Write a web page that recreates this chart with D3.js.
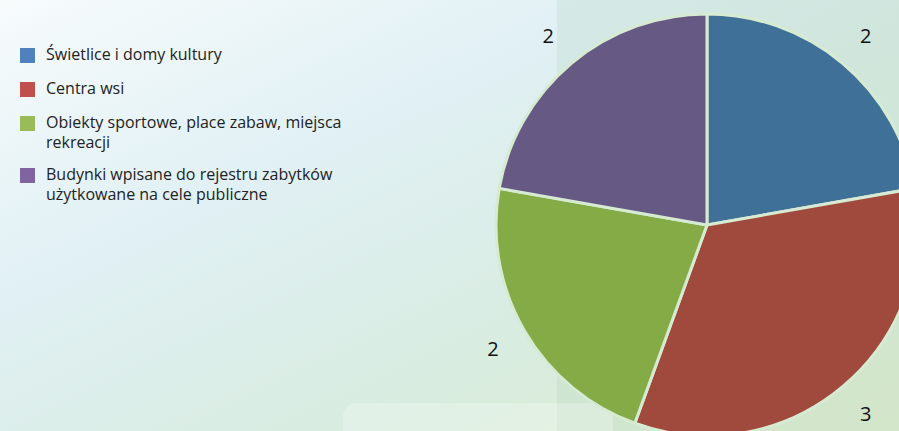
<!DOCTYPE html>
<html>
<head>
<meta charset="utf-8">
<script src="https://cdn.jsdelivr.net/npm/d3@7"></script>
<style>
  html, body { margin: 0; padding: 0; overflow: hidden; }
  body { width: 899px; height: 431px; }
</style>
</head>
<body>
<div id="chart"></div>
<script>
let categories = [
  "Świetlice i domy kultury",
  "Centra wsi",
  "Obiekty sportowe, place zabaw, miejsca rekreacji",
  "Budynki wpisane do rejestru zabytków użytkowane na cele publiczne"
];
let values = [2, 3, 2, 2];
// legend lines (wrapped like the original)
let legendLines = [
  ["Świetlice i domy kultury"],
  ["Centra wsi"],
  ["Obiekty sportowe, place zabaw, miejsca", "rekreacji"],
  ["Budynki wpisane do rejestru zabytków", "użytkowane na cele publiczne"]
];
let legendColors = ["#4f81bd", "#c0504d", "#9bbb59", "#8064a2"];
let sliceColors = ["#3e7098", "#9f4a3d", "#85ab47", "#665a84"];

let w = 899;
let h = 431;

let svg = d3.select("#chart")
  .append("svg")
    .attr("width", w)
    .attr("height", h)
    .style("display", "block")
    .style("font-family", "'Open Sans', 'Noto Sans', sans-serif");

// background
let defs = svg.append("defs");
let bg = defs.append("linearGradient")
  .attr("id", "bg")
  .attr("x1", "0").attr("y1", "0")
  .attr("x2", "1").attr("y2", "1");
bg.append("stop").attr("offset", "0%").attr("stop-color", "#f7fbfc");
bg.append("stop").attr("offset", "35%").attr("stop-color", "#e0f0f4");
bg.append("stop").attr("offset", "70%").attr("stop-color", "#d8ecdf");
bg.append("stop").attr("offset", "100%").attr("stop-color", "#e0eed0");

svg.append("rect")
  .attr("width", w).attr("height", h)
  .attr("fill", "url(#bg)");

// shaded panel behind the pie
svg.append("rect")
  .attr("x", 557).attr("y", 0)
  .attr("width", w - 557).attr("height", h)
  .attr("fill", "#a8ceb0")
  .attr("opacity", 0.22);

// soft light box near the bottom
svg.append("rect")
  .attr("x", 343).attr("y", 403)
  .attr("width", 270).attr("height", 60)
  .attr("rx", 14)
  .attr("fill", "#ffffff")
  .attr("opacity", 0.25);

// pie
let cx = 707, cy = 225, r = 211;

let pie = d3.pie().sort(null).value(d => d);
let arcs = pie(values);
let arc = d3.arc().innerRadius(0).outerRadius(r);
let labelArc = d3.arc().innerRadius(247).outerRadius(247);

let g = svg.append("g").attr("transform", `translate(${cx},${cy})`);

g.selectAll("path")
  .data(arcs)
  .enter()
  .append("path")
    .attr("d", arc)
    .attr("fill", (d, i) => sliceColors[i])
    .attr("stroke", "#d7ead2")
    .attr("stroke-width", 3)
    .attr("stroke-linejoin", "round");

g.selectAll("text.val")
  .data(arcs)
  .enter()
  .append("text")
    .attr("class", "val")
    .attr("transform", d => `translate(${labelArc.centroid(d)})`)
    .attr("text-anchor", "middle")
    .attr("dy", "0.35em")
    .style("font-size", "20px")
    .style("fill", "#111")
    .text(d => d.data);

// legend
let legendY = [48, 82, 116, 168];
let leg = svg.append("g");
legendLines.forEach(function(lines, i) {
  leg.append("rect")
    .attr("x", 20).attr("y", legendY[i])
    .attr("width", 15).attr("height", 15)
    .attr("fill", legendColors[i]);
  lines.forEach(function(t, j) {
    leg.append("text")
      .attr("x", 46)
      .attr("y", legendY[i] + 12 + j * 20)
      .style("font-size", "16px")
      .style("fill", "#222")
      .text(t);
  });
});
</script>
</body>
</html>
